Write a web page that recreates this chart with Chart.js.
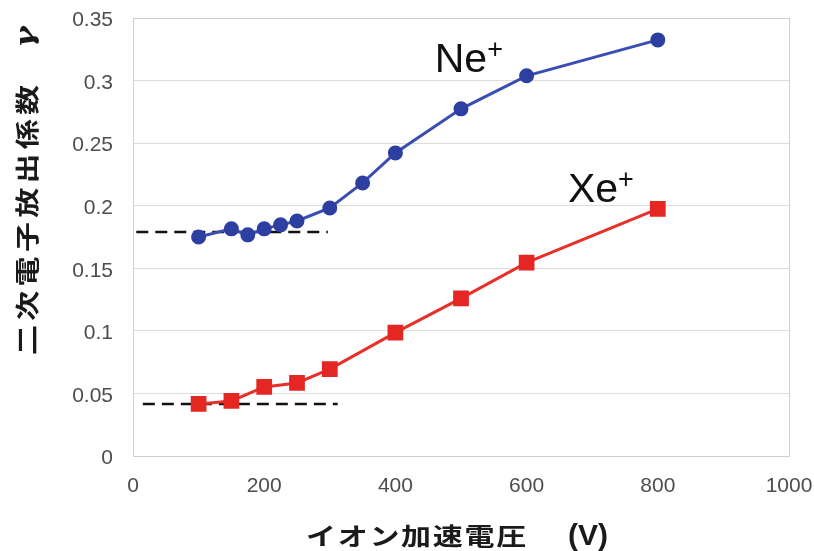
<!DOCTYPE html>
<html>
<head>
<meta charset="utf-8">
<script src="https://cdn.jsdelivr.net/npm/chart.js@4"></script>
<style>
  html, body { margin: 0; padding: 0; background: #fff; }
  #wrap { width: 814px; height: 551px; position: relative; }
</style>
</head>
<body>
<div id="wrap"><canvas id="chart"></canvas></div>
<script>
// 加速電圧 (V)
const neVolt = [100, 150, 175, 200, 225, 250, 300, 350, 400, 500, 600, 800];
const neGamma = [0.175, 0.1815, 0.1767, 0.1815, 0.1847, 0.1878, 0.1982, 0.2182, 0.2422, 0.2774, 0.3038, 0.3325];

const xeVolt = [100, 150, 200, 250, 300, 400, 500, 600, 800];
const xeGamma = [0.0416, 0.044, 0.0552, 0.0584, 0.0695, 0.0986, 0.126, 0.1545, 0.1974];

// 破線（低エネルギー側の値）
const neBaseVolt = [5, 297];
const neBase = [0.179, 0.179];
const xeBaseVolt = [15, 312];
const xeBase = [0.0416, 0.0416];

const xTicks = [0, 200, 400, 600, 800, 1000];
const yTicks = [0, 0.05, 0.1, 0.15, 0.2, 0.25, 0.3, 0.35];

const ionLabels = [
  { name: "Ne", sup: "+", x: 460, y: 0.3065 },
  { name: "Xe", sup: "+", x: 663, y: 0.2030 },
];

const toPoints = (xs, ys) => xs.map((x, i) => ({ x: x, y: ys[i] }));

// 横に伸ばした文字を一つずつ描く
function drawWide(ctx, ch, x, y, rot) {
  ctx.save();
  ctx.translate(x, y);
  if (rot) ctx.rotate(-Math.PI / 2);
  ctx.scale(1.25, 1);
  ctx.fillText(ch, 0, 0);
  ctx.restore();
}

const frame = {
  id: "frame",
  beforeDatasetsDraw(chart) {
    const a = chart.chartArea;
    const ctx = chart.ctx;
    ctx.save();
    ctx.strokeStyle = "#cfcfcf";
    ctx.lineWidth = 1;
    ctx.strokeRect(a.left + 0.5, a.top + 0.5, a.right - a.left, a.bottom - a.top);
    ctx.restore();
  },
  afterDraw(chart) {
    const ctx = chart.ctx;
    const xs = chart.scales.x, ys = chart.scales.y;
    ctx.save();
    // イオン名
    ctx.fillStyle = "#111";
    ctx.textBaseline = "alphabetic";
    ctx.textAlign = "left";
    ionLabels.forEach((l) => {
      const px = xs.getPixelForValue(l.x);
      const py = ys.getPixelForValue(l.y);
      ctx.font = "41px 'Liberation Sans', Arial, sans-serif";
      ctx.fillText(l.name, px, py);
      const w = ctx.measureText(l.name).width;
      ctx.font = "27px 'Liberation Sans', Arial, sans-serif";
      ctx.fillText(l.sup, px + w, py - 14);
    });

    // 縦軸タイトル
    const yChars = ["二", "次", "電", "子", "放", "出", "係", "数"];
    ctx.fillStyle = "#1a1a1a";
    ctx.font = "bold 24px 'Noto Sans CJK JP', sans-serif";
    ctx.textAlign = "center";
    ctx.textBaseline = "middle";
    yChars.forEach((c, i) => drawWide(ctx, c, 27, 340 - i * 34.3, true));
    ctx.font = "italic bold 26px 'DejaVu Serif', serif";
    drawWide(ctx, "γ", 27, 37, true);

    // 横軸タイトル
    const xChars = ["イ", "オ", "ン", "加", "速", "電", "圧"];
    ctx.font = "bold 24px 'Noto Sans CJK JP', sans-serif";
    xChars.forEach((c, i) => drawWide(ctx, c, 321 + i * 31.7, 536, false));
    ctx.font = "bold 30px 'Liberation Sans', Arial, sans-serif";
    ctx.fillText("(V)", 588, 537);
    ctx.restore();
  },
};

new Chart("chart", {
  type: "line",
  data: {
    datasets: [
      {
        label: "Ne+",
        data: toPoints(neVolt, neGamma),
        borderColor: "#3a4db3",
        backgroundColor: "#2d3fa0",
        pointBorderColor: "#2d3fa0",
        borderWidth: 3,
        pointRadius: 6,
        pointStyle: "circle",
        tension: 0,
      },
      {
        label: "Xe+",
        data: toPoints(xeVolt, xeGamma),
        borderColor: "#e8302a",
        backgroundColor: "#e52723",
        pointBorderColor: "#e52723",
        borderWidth: 3,
        pointRadius: 9,
        pointStyle: "rect",
        tension: 0,
      },
      {
        label: "Ne base",
        data: toPoints(neBaseVolt, neBase),
        borderColor: "#111",
        borderWidth: 2.5,
        borderDash: [12, 7],
        pointRadius: 0,
      },
      {
        label: "Xe base",
        data: toPoints(xeBaseVolt, xeBase),
        borderColor: "#111",
        borderWidth: 2.5,
        borderDash: [12, 7],
        pointRadius: 0,
      },
    ],
  },
  options: {
    responsive: true,
    maintainAspectRatio: false,
    animation: false,
    layout: { padding: { top: 18, right: 25, left: 0, bottom: 0 } },
    plugins: {
      legend: { display: false },
      tooltip: { enabled: false },
    },
    scales: {
      x: {
        type: "linear",
        min: 0,
        max: 1000,
        afterFit: (s) => { s.height = 95; s.paddingLeft = 0; s.paddingRight = 0; },
        afterBuildTicks: (s) => { s.ticks = xTicks.map((v) => ({ value: v })); },
        grid: { display: false, drawTicks: false },
        border: { display: false },
        ticks: {
          padding: 18,
          color: "#4d4d4d",
          font: { family: "'Liberation Sans', Arial, sans-serif", size: 21 },
          maxRotation: 0,
          callback: (v) => String(v),
        },
      },
      y: {
        min: 0,
        max: 0.35,
        afterFit: (s) => { s.width = 133; s.paddingTop = 0; s.paddingBottom = 0; },
        afterBuildTicks: (s) => { s.ticks = yTicks.map((v) => ({ value: v })); },
        grid: { color: "#dcdcdc", lineWidth: 1, drawTicks: false },
        border: { display: false },
        ticks: {
          padding: 20,
          labelOffset: 2.5,
          color: "#4d4d4d",
          font: { family: "'Liberation Sans', Arial, sans-serif", size: 21 },
          callback: (v) => String(Math.round(v * 100) / 100),
        },
      },
    },
  },
  plugins: [frame],
});
</script>
</body>
</html>
